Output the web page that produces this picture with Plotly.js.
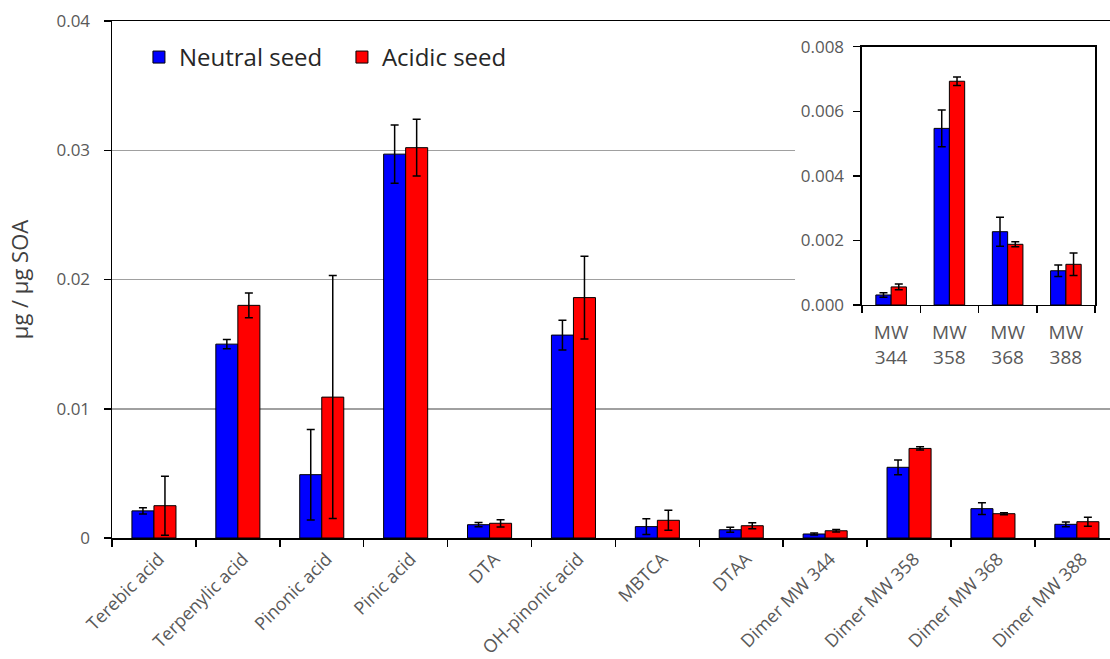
<!DOCTYPE html>
<html>
<head>
<meta charset="utf-8">
<script src="https://cdn.plot.ly/plotly-3.0.1.min.js"></script>
<style>
  html, body { margin: 0; padding: 0; background: #fff; }
  #chart { width: 1110px; height: 659px; }
</style>
</head>
<body>
<div id="chart"></div>
<script>
// Compound yields (µg per µg SOA) for the two seed conditions
const categories = ['Terebic acid', 'Terpenylic acid', 'Pinonic acid', 'Pinic acid', 'DTA',
  'OH-pinonic acid', 'MBTCA', 'DTAA', 'Dimer MW 344', 'Dimer MW 358', 'Dimer MW 368', 'Dimer MW 388'];
const neutralSeed = [0.0021, 0.0150, 0.0049, 0.0297, 0.00103, 0.0157, 0.00088, 0.00064,
  0.00031, 0.00547, 0.00227, 0.00106];
const neutralErr = [0.00025, 0.00036, 0.0035, 0.00225, 0.00016, 0.00115, 0.0006, 0.0002,
  0.00007, 0.00057, 0.00045, 0.00018];
const acidicSeed = [0.0025, 0.0180, 0.0109, 0.0302, 0.00114, 0.0186, 0.00137, 0.00095,
  0.00056, 0.00693, 0.00188, 0.00126];
const acidicErr = [0.00228, 0.00095, 0.0094, 0.0022, 0.00028, 0.0032, 0.00077, 0.00023,
  0.00009, 0.00013, 0.00008, 0.00035];

// Dimer close-up (last four compounds)
const dimerLabels = ['MW<br>344', 'MW<br>358', 'MW<br>368', 'MW<br>388'];
const dimerStart = 8;

const yTicks = [0, 0.01, 0.02, 0.03, 0.04];
const insetTicks = [0, 0.002, 0.004, 0.006, 0.008];

const FONT = 'Open Sans, Noto Sans, sans-serif';
const GREY = '#595959';
const BLUE = '#0000ff';
const RED = '#ff0000';

function errBar(arr) {
  return { type: 'data', array: arr, visible: true, color: '#000', thickness: 1.5, width: 4 };
}

const barLine = { color: '#000', width: 1 };

const traces = [
  {
    type: 'bar', name: 'Neutral seed', x: categories, y: neutralSeed,
    marker: { color: BLUE, line: barLine }, error_y: errBar(neutralErr),
    xaxis: 'x', yaxis: 'y'
  },
  {
    type: 'bar', name: 'Acidic seed', x: categories, y: acidicSeed,
    marker: { color: RED, line: barLine }, error_y: errBar(acidicErr),
    xaxis: 'x', yaxis: 'y'
  },
  // blank white panel behind the close-up
  {
    type: 'scatter', x: [], y: [], xaxis: 'x2', yaxis: 'y2',
    showlegend: false, hoverinfo: 'skip'
  },
  {
    type: 'bar', name: 'Neutral seed', x: dimerLabels, y: neutralSeed.slice(dimerStart),
    marker: { color: BLUE, line: barLine }, error_y: errBar(neutralErr.slice(dimerStart)),
    xaxis: 'x3', yaxis: 'y3', showlegend: false
  },
  {
    type: 'bar', name: 'Acidic seed', x: dimerLabels, y: acidicSeed.slice(dimerStart),
    marker: { color: RED, line: barLine }, error_y: errBar(acidicErr.slice(dimerStart)),
    xaxis: 'x3', yaxis: 'y3', showlegend: false
  }
];

const layout = {
  width: 1110, height: 659,
  margin: { l: 112, r: 0, t: 21, b: 121 },
  paper_bgcolor: '#fff', plot_bgcolor: '#fff',
  font: { family: FONT, color: GREY, size: 16 },
  barmode: 'group', bargap: 0.475, bargroupgap: 0,
  showlegend: true,
  legend: {
    orientation: 'h', x: 0.027, y: 0.973, xanchor: 'left', yanchor: 'top',
    font: { family: FONT, size: 24, color: '#262626' },
    bgcolor: 'rgba(0,0,0,0)', entrywidth: 158
  },
  xaxis: {
    domain: [0, 1], anchor: 'y', type: 'category',
    range: [-0.5, 11.395],
    showline: true, linecolor: '#000', linewidth: 1.5, mirror: true,
    ticks: 'outside', tickson: 'boundaries', ticklen: 7, tickcolor: '#000', tickwidth: 1.5,
    tickangle: -45, tickfont: { size: 18, color: GREY },
    ticklabelshift: 5, ticklabelstandoff: 2,
    showgrid: false, zeroline: false
  },
  yaxis: {
    domain: [0, 1], anchor: 'x',
    range: [0, 0.04], tickvals: yTicks,
    showline: true, linecolor: '#000', linewidth: 1.5,
    ticks: 'outside', ticklen: 7, tickcolor: '#000', tickwidth: 1.5,
    ticklabelstandoff: 10,
    showgrid: true, gridcolor: '#a0a0a0', gridwidth: 1.5, zeroline: false,
    tickfont: { size: 17, color: GREY },
    title: { text: 'µg / µg SOA', font: { size: 22, color: '#404040' }, standoff: 22 }
  },
  xaxis2: {
    domain: [0.6844, 1], anchor: 'y2', range: [0, 1], visible: false, fixedrange: true
  },
  yaxis2: {
    domain: [0.3056, 0.9865], anchor: 'x2', range: [0, 1], visible: false, fixedrange: true
  },
  xaxis3: {
    domain: [0.7515, 0.985], anchor: 'y3', type: 'category', range: [-0.5, 3.5],
    showline: true, linecolor: '#000', linewidth: 1.5, mirror: true,
    ticks: 'outside', tickson: 'boundaries', ticklen: 7, tickcolor: '#000', tickwidth: 1.5,
    tickangle: 0, tickfont: { size: 19, color: GREY }, ticklabelstandoff: 10,
    showgrid: false, zeroline: false
  },
  yaxis3: {
    domain: [0.4507, 0.9503], anchor: 'x3',
    range: [0, 0.008], tickvals: insetTicks, tickformat: '.3f',
    showline: true, linecolor: '#000', linewidth: 1.5, mirror: true,
    ticks: 'outside', ticklen: 7, tickcolor: '#000', tickwidth: 1.5,
    ticklabelstandoff: 6,
    showgrid: false, zeroline: false,
    tickfont: { size: 17, color: GREY }
  }
};

Plotly.newPlot('chart', traces, layout, { displayModeBar: false, staticPlot: true });
</script>
</body>
</html>
